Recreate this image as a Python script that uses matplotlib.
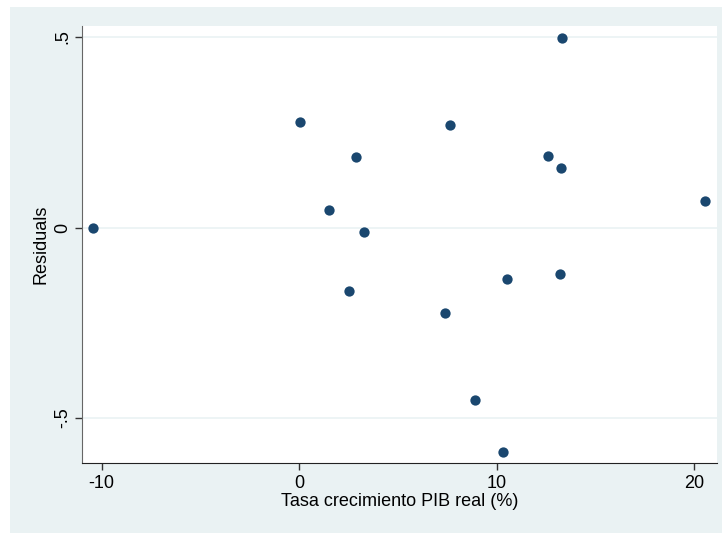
import matplotlib
matplotlib.use("Agg")
import matplotlib.pyplot as plt
from matplotlib.patches import Rectangle

plt.rcParams['font.family'] = ['Liberation Sans', 'DejaVu Sans']
plt.rcParams['axes.unicode_minus'] = False

# datos
pib = [-10.44, 0.02, 2.86, 1.51, 3.31, 2.55, 7.62, 7.40, 8.92, 10.31,
       10.51, 12.59, 13.26, 13.30, 13.20, 20.58]
residuos = [-0.002, 0.276, 0.184, 0.047, -0.011, -0.167, 0.270, -0.224, -0.453, -0.589,
            -0.135, 0.189, 0.157, 0.497, -0.122, 0.070]
xticks = [-10, 0, 10, 20]
yticks = [-0.5, 0, 0.5]
ytick_labels = ['-.5', '0', '.5']

bg = '#EAF2F3'
navy = '#1A476F'

fig = plt.figure(figsize=(7.22, 5.33), dpi=100)
fig.patches.append(Rectangle((10 / 722, 0), 1, (533 - 7) / 533, transform=fig.transFigure,
                             facecolor=bg, edgecolor='none', zorder=-10))
ax = fig.add_axes([82 / 722, (533 - 463) / 533, 635 / 722, 437 / 533])
ax.set_facecolor('white')

ax.scatter(pib, residuos, s=55, color=navy, zorder=3, linewidths=0)

ax.set_xlim(-11.0, 21.17)
ax.set_ylim(-0.618, 0.529)
ax.set_xticks(xticks)
ax.set_yticks(yticks)
ax.set_yticklabels(ytick_labels, rotation=90, va='center')
ax.grid(axis='y', color=bg, linewidth=1.2)
ax.grid(axis='x', visible=False)
ax.set_axisbelow(True)

for s in ['top', 'right']:
    ax.spines[s].set_visible(False)
ax.spines['left'].set_color('#666666')
ax.spines['bottom'].set_color('#222222')
ax.tick_params(direction='out', length=5, width=1, colors='#333333', labelcolor='black',
               labelsize=13)
ax.tick_params(axis='y', pad=3)

ax.set_xlabel('Tasa crecimiento PIB real (%)', fontsize=13, labelpad=1)
ax.set_ylabel('Residuals', fontsize=13, labelpad=3)

fig.savefig('out.png', dpi=100, facecolor='white')
